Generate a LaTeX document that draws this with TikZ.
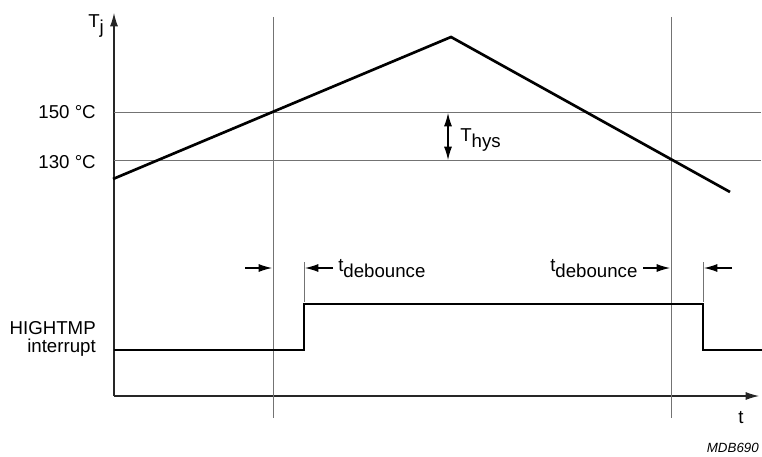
\documentclass[tikz,border=0pt]{standalone}
\usepackage{fontspec}
\setmainfont{Liberation Sans}
\usetikzlibrary{arrows.meta}
\newcommand{\lowered}[1]{\raisebox{-4.5pt}{#1}}
\begin{document}
\begin{tikzpicture}[x=0.75pt, y=-0.75pt, >={Latex[width=6pt,length=10pt]},
    font=\fontsize{14}{16}\selectfont,
    label-node/.style={inner sep=0pt},
    grid-line/.style={draw=black!55, line width=0.75pt},
    axis-line/.style={draw=black!85, line width=0.8pt},
    signal/.style={draw=black, line width=2pt, line join=miter}]
\useasboundingbox (0,0) rectangle (762,456);
% axes
\coordinate (origin) at (114,396);
\draw[axis-line, ->] (origin) -- (114,13) coordinate (y-tip);
\draw[axis-line, ->] (origin) -- (759,396) coordinate (x-tip);
% threshold lines
\draw[grid-line] (114,113) coordinate (hi-left) -- (761,113) coordinate (hi-right);
\draw[grid-line] (114,160) coordinate (lo-left) -- (761,160) coordinate (lo-right);
% switching instants
\draw[grid-line] (273,17) coordinate (on-top) -- (273,418) coordinate (on-bottom);
\draw[grid-line] (671,17) coordinate (off-top) -- (671,418) coordinate (off-bottom);
% junction temperature
\coordinate (tj-start) at (113,179);
\coordinate (tj-peak) at (451,37);
\coordinate (tj-end) at (730,192);
\draw[signal] (tj-start) -- (tj-peak) -- (tj-end);
% hysteresis
\draw[<->, line width=0.8pt] (448,113) coordinate (hys-top) -- (448,160) coordinate (hys-bottom);
% interrupt signal
\coordinate (rise) at (304,350);
\coordinate (fall) at (703,304);
\draw[signal] (114,350) -- (rise) -- (304,304) -- (fall) -- (703,350) -- (762,350);
% debounce marks
\draw[grid-line] (304,262) coordinate (rise-tick) -- (304,302);
\draw[grid-line] (703,262) coordinate (fall-tick) -- (703,302);
\draw[->, line width=0.8pt] (245,268) -- (272,268);
\draw[->, line width=0.8pt] (333,268) -- (305,268);
\draw[->, line width=0.8pt] (643,268) -- (670,268);
\draw[->, line width=0.8pt] (732,268) -- (704,268);
% labels
\node[label-node, anchor=base west] (tj) at (88,27.5) {T\lowered{j}};
\node[label-node, anchor=base east] (t150) at (96,118.5) {150 °C};
\node[label-node, anchor=base east] (t130) at (96,168.5) {130 °C};
\node[label-node, anchor=base west] (thys) at (460,142) {T\lowered{hys}};
\node[label-node, anchor=base west] (deb-on) at (338,271) {t\lowered{debounce}};
\node[label-node, anchor=base west] (deb-off) at (550,271) {t\lowered{debounce}};
\node[label-node, anchor=east, align=right, font=\fontsize{14}{13.5}\selectfont] (hightmp) at (96,339) {HIGHTMP\\interrupt};
\node[label-node, anchor=base west] (t-axis) at (738,423) {t};
\node[label-node, anchor=base east, font=\fontsize{10}{12}\selectfont\itshape] (code) at (759,452) {MDB690};
\end{tikzpicture}
\end{document}
